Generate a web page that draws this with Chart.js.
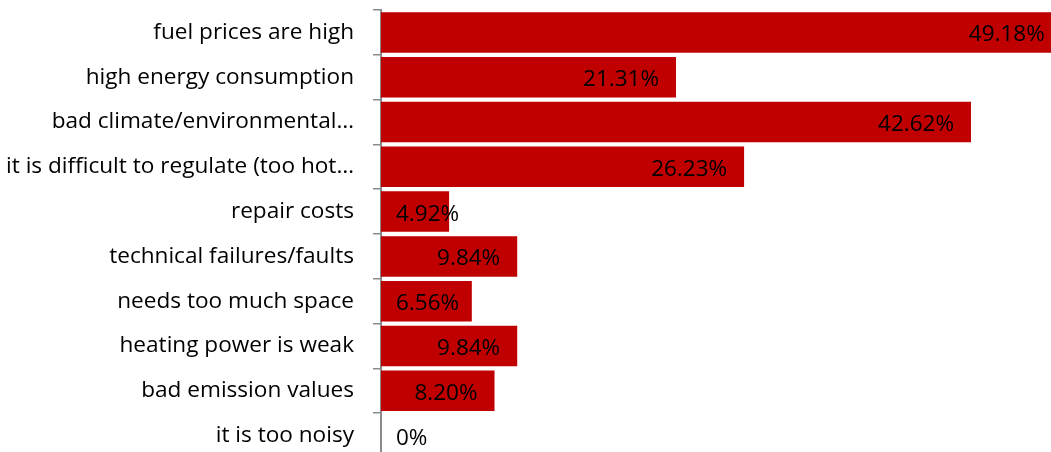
<!DOCTYPE html>
<html>
<head>
<meta charset="utf-8">
<script src="https://cdn.jsdelivr.net/npm/chart.js@4/dist/chart.umd.min.js"></script>
<style>
  html, body { margin: 0; padding: 0; background: #fff; overflow: hidden; }
  #wrap { position: relative; width: 1051px; height: 458px; }
</style>
</head>
<body>
<div id="wrap"><canvas id="reasons"></canvas></div>
<script>
const categories = [
  'fuel prices are high',
  'high energy consumption',
  'bad climate/environmental…',
  'it is difficult to regulate (too hot…',
  'repair costs',
  'technical failures/faults',
  'needs too much space',
  'heating power is weak',
  'bad emission values',
  'it is too noisy'
];
const shares = [49.18, 21.31, 42.62, 26.23, 4.92, 9.84, 6.56, 9.84, 8.20, 0];
const shareLabels = shares.map(v => v === 0 ? '0%' : v.toFixed(2) + '%');

const FONT = '"Open Sans", "Noto Sans", sans-serif';
const AXIS_GREY = '#8a8a8a';

// percentage text at the inner end of each bar, pushed out past the axis when the bar is short
const barValueLabels = {
  id: 'barValueLabels',
  afterDatasetsDraw(chart) {
    const ctx = chart.ctx;
    const meta = chart.getDatasetMeta(0);
    ctx.save();
    ctx.font = '22.5px ' + FONT;
    ctx.fillStyle = '#000';
    ctx.textAlign = 'left';
    ctx.textBaseline = 'alphabetic';
    meta.data.forEach((bar, i) => {
      const text = shareLabels[i];
      const w = ctx.measureText(text).width;
      const left = Math.max(bar.x - 17 - w, bar.base + 15);
      ctx.fillText(text, left, bar.y + 9);
    });
    ctx.restore();
  }
};

new Chart(document.getElementById('reasons'), {
  type: 'bar',
  data: {
    labels: categories,
    datasets: [{
      data: shares,
      backgroundColor: '#c00000',
      borderWidth: 0,
      barPercentage: 0.905,
      categoryPercentage: 1.0
    }]
  },
  options: {
    indexAxis: 'y',
    responsive: true,
    maintainAspectRatio: false,
    animation: false,
    layout: { padding: { top: 10, right: 0, bottom: 0, left: 0 } },
    plugins: {
      legend: { display: false },
      tooltip: { enabled: false }
    },
    scales: {
      x: {
        display: false,
        min: 0,
        max: 48.4
      },
      y: {
        afterFit(scale) {
          scale.width = 381;
          scale.paddingTop = 0;
          scale.paddingBottom = 0;
        },
        border: { display: true, color: AXIS_GREY, width: 2 },
        grid: {
          drawOnChartArea: false,
          drawTicks: true,
          tickLength: 8,
          color: AXIS_GREY,
          lineWidth: 1.5
        },
        ticks: {
          color: '#000',
          padding: 19,
          font: { family: FONT, size: 22.6 }
        }
      }
    }
  },
  plugins: [barValueLabels]
});
</script>
</body>
</html>
